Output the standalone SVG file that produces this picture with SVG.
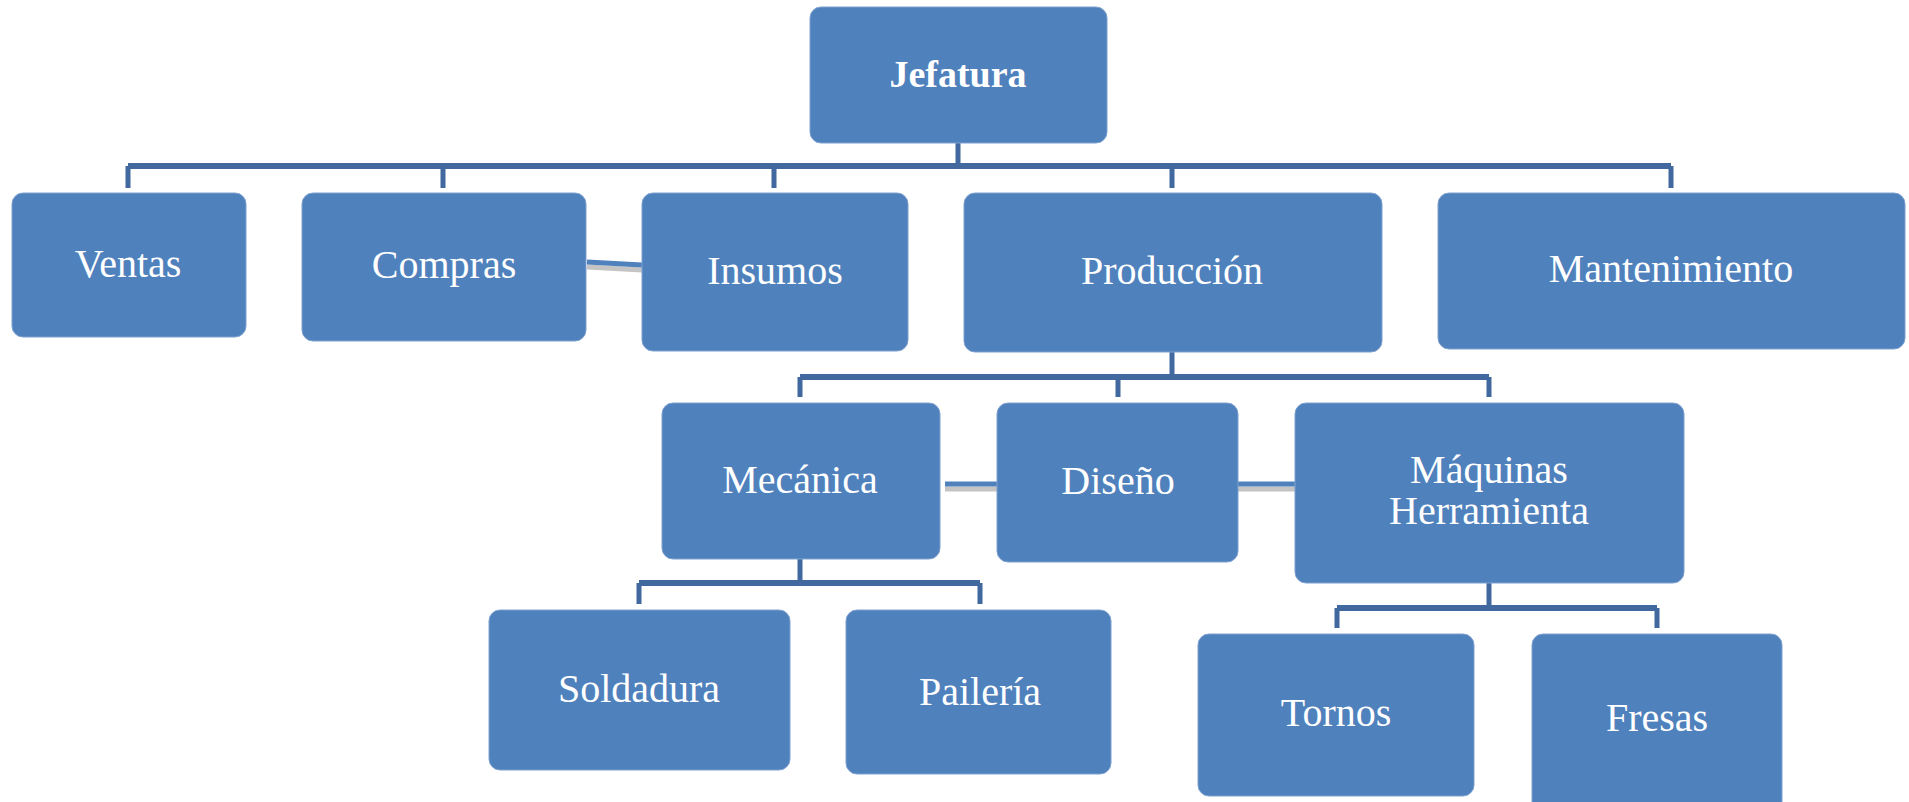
<svg xmlns="http://www.w3.org/2000/svg" width="1909" height="802" viewBox="0 0 1909 802">
<style>
.box{fill:#4f81bd;stroke:#7ea1cf;stroke-width:1}
.t{fill:#ffffff;font-family:"Liberation Serif","DejaVu Serif",serif;font-size:40px;text-anchor:middle}
.b{font-weight:bold;font-size:38px}
.bus{stroke:#41699f;stroke-width:6;fill:none}
.drop{stroke:#41699f;stroke-width:5;fill:none}
.side{stroke:#4f81bd;stroke-width:5;fill:none}
.shadow{stroke:#c4c4c4;stroke-width:5;fill:none}
</style>
<rect width="1909" height="802" fill="#ffffff"/>
<g id="connectors">
  <path class="drop" d="M958 143V166"/>
  <path class="bus" d="M128 166H1671"/>
  <path class="drop" d="M128 166V188M443 166V188M774 166V188M1172 166V188M1671 166V188"/>
  <path class="drop" d="M1172 352V377"/>
  <path class="bus" d="M800 377H1489"/>
  <path class="drop" d="M800 377V397M1118 377V397M1489 377V397"/>
  <path class="drop" d="M800 559V583"/>
  <path class="bus" d="M639 583H980"/>
  <path class="drop" d="M639 583V604M980 583V604"/>
  <path class="drop" d="M1489 583V608"/>
  <path class="bus" d="M1337 608H1657"/>
  <path class="drop" d="M1337 608V628M1657 608V628"/>
  <path class="shadow" d="M587 267L642 270"/>
  <path class="side" d="M587 262L642 265"/>
  <path class="shadow" d="M945 489H1000M1238 489H1295"/>
  <path class="side" d="M945 484H1008M1238 484H1295"/>
</g>
<g id="jefatura"><rect class="box" x="810" y="7" width="297" height="136" rx="11"/><text class="t b" x="958" y="87">Jefatura</text></g>
<g id="ventas"><rect class="box" x="12" y="193" width="234" height="144" rx="11"/><text class="t" x="128" y="277">Ventas</text></g>
<g id="compras"><rect class="box" x="302" y="193" width="284" height="148" rx="11"/><text class="t" x="444" y="278">Compras</text></g>
<g id="insumos"><rect class="box" x="642" y="193" width="266" height="158" rx="11"/><text class="t" x="775" y="284">Insumos</text></g>
<g id="produccion"><rect class="box" x="964" y="193" width="418" height="159" rx="11"/><text class="t" x="1172" y="284">Producción</text></g>
<g id="mantenimiento"><rect class="box" x="1438" y="193" width="467" height="156" rx="11"/><text class="t" x="1671" y="282">Mantenimiento</text></g>
<g id="mecanica"><rect class="box" x="662" y="403" width="278" height="156" rx="11"/><text class="t" x="800" y="493">Mecánica</text></g>
<g id="diseno"><rect class="box" x="997" y="403" width="241" height="159" rx="11"/><text class="t" x="1118" y="494">Diseño</text></g>
<g id="maquinas"><rect class="box" x="1295" y="403" width="389" height="180" rx="11"/><text class="t" x="1489" y="483">Máquinas</text><text class="t" x="1489" y="524">Herramienta</text></g>
<g id="soldadura"><rect class="box" x="489" y="610" width="301" height="160" rx="11"/><text class="t" x="639" y="702">Soldadura</text></g>
<g id="paileria"><rect class="box" x="846" y="610" width="265" height="164" rx="11"/><text class="t" x="980" y="705">Pailería</text></g>
<g id="tornos"><rect class="box" x="1198" y="634" width="276" height="162" rx="11"/><text class="t" x="1336" y="726">Tornos</text></g>
<g id="fresas"><rect class="box" x="1532" y="634" width="250" height="180" rx="11"/><text class="t" x="1657" y="731">Fresas</text></g>
</svg>
